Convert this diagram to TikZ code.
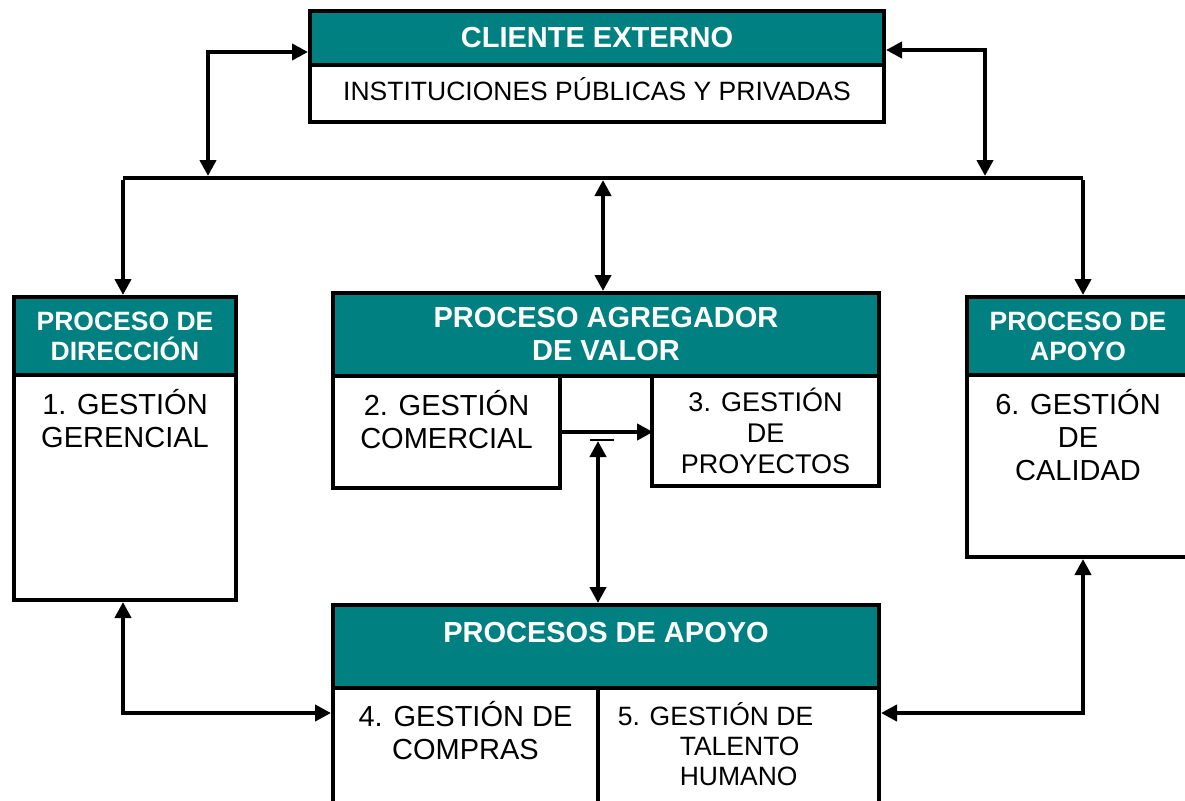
\documentclass[tikz,border=0pt]{standalone}
\usepackage{fontspec}
\setmainfont{Liberation Sans}
\usepackage{tikz}
\usetikzlibrary{positioning,arrows.meta}
\definecolor{headteal}{RGB}{0,128,128}
\tikzset{
  basic/.style      = {draw, line width=4.5pt, rectangle, inner sep=0pt, outer sep=0pt,
                       anchor=north west},
  head/.style       = {basic, fill=headteal, text=white, align=center,
                       font=\bfseries\fontsize{29}{33}\selectfont},
  small head/.style = {head, font=\bfseries\fontsize{26.5}{30}\selectfont},
  body/.style       = {basic, fill=white},
  bodytext/.style   = {inner sep=0pt, anchor=north, align=center,
                       font=\fontsize{29}{33}\selectfont},
  small text/.style = {bodytext, font=\fontsize{26.5}{30}\selectfont},
  headtext/.style   = {bodytext, text=white, font=\bfseries\fontsize{29}{33}\selectfont},
  link/.style       = {line width=4pt, shorten >=2pt, shorten <=2pt}
}

\begin{document}
\begin{tikzpicture}[x=1pt, y=-1pt,
  >={Triangle[length=16pt,width=16pt]}]
\useasboundingbox (0,0) rectangle (1185,800);
\clip (0,0) rectangle (1185,800);

% client on top
\node[head, minimum width=574pt, minimum height=54pt] (cliHead) at (310,11) {CLIENTE EXTERNO};
\node[body, minimum width=574pt, minimum height=57pt] (cliBody) at (cliHead.south west) {};
\node[small text, below=12pt of cliBody.north] (cliText) {INSTITUCIONES PÚBLICAS Y PRIVADAS};

% left column, direction
\node[small head, minimum width=222pt, minimum height=78pt] (dirHead) at (14,297) {PROCESO DE\\DIRECCIÓN};
\node[body, minimum width=222pt, minimum height=225pt] (dirBody) at (dirHead.south west) {};
\node[bodytext, below=14pt of dirBody.north] (dirText) {1. GESTIÓN\\GERENCIAL};

% middle, value chain
\node[head, minimum width=546pt, minimum height=83pt] (agrHead) at (333,293) {PROCESO AGREGADOR\\DE VALOR};
\node[body, minimum width=227pt, minimum height=112pt] (comBody) at (agrHead.south west) {};
\node[body, minimum width=227pt, minimum height=110pt] (proyBody) at (652,376) {};
\node[bodytext, below=14pt of comBody.north] (comText) {2. GESTIÓN\\COMERCIAL};
\node[bodytext, font=\fontsize{27}{31}\selectfont, below=12pt of proyBody.north] (proyText) {3. GESTIÓN\\DE\\PROYECTOS};

% right column, quality
\node[small head, minimum width=222pt, minimum height=78pt] (calHead) at (967,297) {PROCESO DE\\APOYO};
\node[body, minimum width=222pt, minimum height=182pt] (calBody) at (calHead.south west) {};
\node[bodytext, below=14pt of calBody.north] (calText) {6. GESTIÓN\\DE\\CALIDAD};

% bottom, support
\node[head, minimum width=546pt, minimum height=83pt] (apoHead) at (333,605) {};
\node[headtext, below=17pt of apoHead.north] (apoText) {PROCESOS DE APOYO};
\node[body, minimum width=265pt, minimum height=122pt] (compBody) at (apoHead.south west) {};
\node[body, minimum width=281pt, minimum height=122pt] (talBody) at (598,688) {};
\node[bodytext, below=13pt of compBody.north] (compText) {4. GESTIÓN DE\\COMPRAS};
\node[small text, align=left, xshift=-23pt, below=14pt of talBody.north] (talText)
  {5. GESTIÓN DE\\\hspace*{62pt}TALENTO\\\hspace*{62pt}HUMANO};

% the bus between client and the processes
\coordinate (busL) at (123,178);
\coordinate (busR) at (1083,178);
\coordinate (busA) at (208,178);
\coordinate (busB) at (985,178);
\coordinate (busC) at (603,178);
\coordinate (tick) at (598,439);
\coordinate (barL) at (590,440);
\coordinate (barR) at (614,440);
\draw[line width=3.5pt] (busL) -- (busR);

\draw[link,<->] (busA) |- ([yshift=-14pt]cliHead.west);
\draw[link,<->] ([yshift=-12pt]cliHead.east) -| (busB);
\draw[link,->] (busL) -- (busL |- dirHead.north);
\draw[link,->] (busR) -- (busR |- calHead.north);
\draw[link,<->] (busC) -- (busC |- agrHead.north);

% inside and below the value chain
\draw[link,->,shorten >=-1pt] (comBody.east) -- (comBody.east -| proyBody.west);
\draw[line width=1.5pt] (barL) -- (barR);
\draw[link,<->] (tick) -- (tick |- apoHead.north);

% support links
\draw[link,<->] (busL |- dirBody.south) |- ([yshift=36pt]compBody.west);
\draw[link,<->] (busR |- calBody.south) |- ([yshift=36pt]talBody.east);

\end{tikzpicture}
\end{document}
